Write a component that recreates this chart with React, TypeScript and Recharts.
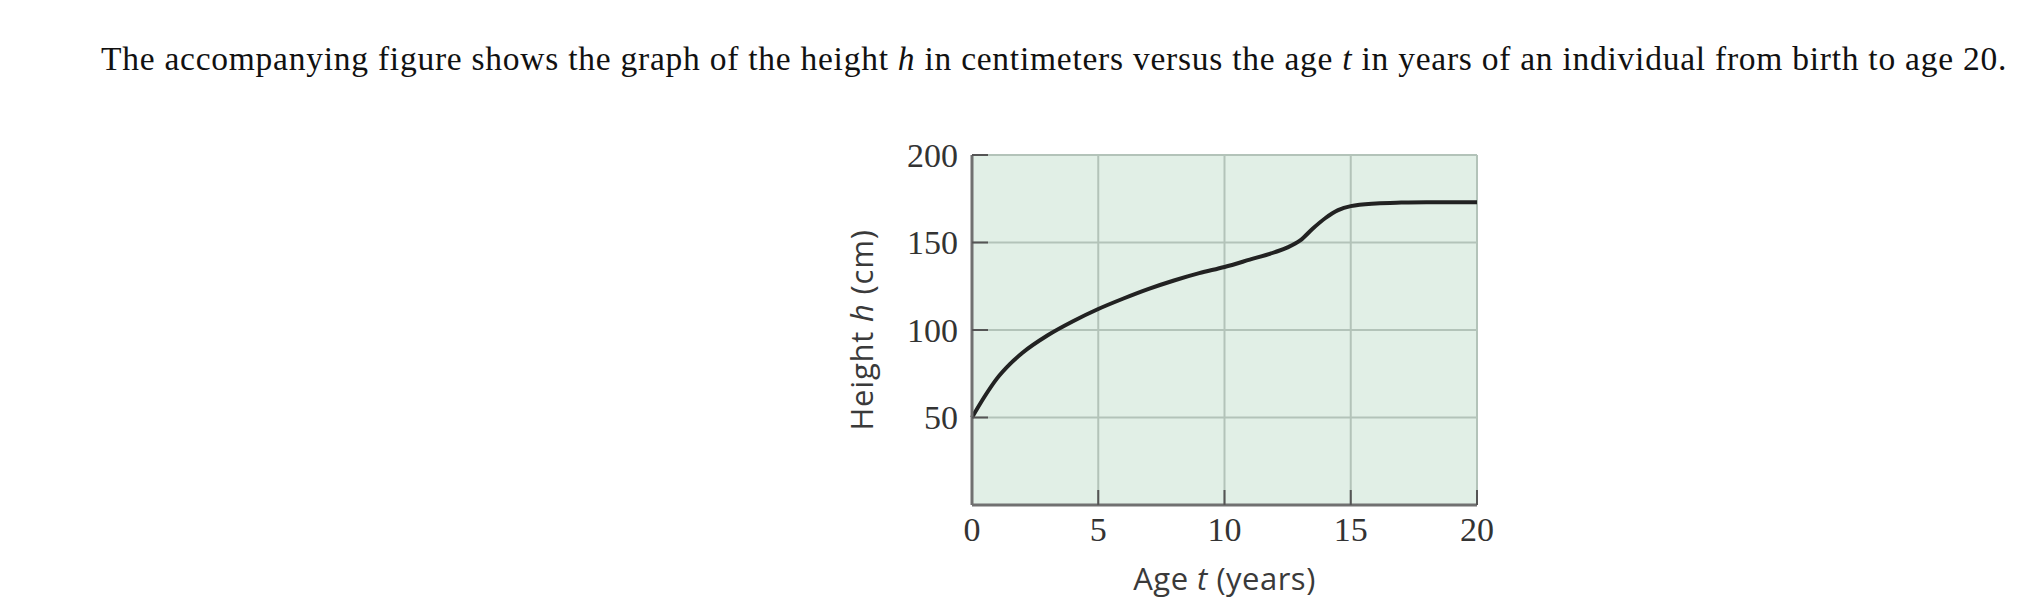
import { LineChart, Line, XAxis, YAxis, CartesianGrid, Label } from 'recharts'

// ages (years) and heights (cm)
const ages = [0, 0.5, 1, 1.5, 2, 3, 4, 5, 6, 7, 8, 9, 10, 11, 12, 12.5, 13, 13.5, 14, 14.5, 15, 16, 17, 18, 19, 20]
const heights = [50, 62, 72.5, 80.5, 87, 97, 105, 112, 118, 123.5, 128.3, 132.5, 136, 140.2, 144.5, 147.2, 151.2, 158, 164, 168.5, 170.8, 172.3, 172.8, 173, 173, 173]

const xTicks = [0, 5, 10, 15, 20]
const yTicks = [50, 100, 150, 200]

const data = ages.map((t, i) => ({ t, h: heights[i] }))

const serif = '"Liberation Serif", "Times New Roman", serif'
const sans = '"Open Sans", "Noto Sans", sans-serif'

const YTick = ({ x, y, payload }: any) => (
  <g>
    <line x1={x + 14} x2={x + 30} y1={y} y2={y} stroke="#555" strokeWidth={2} />
    <text x={x} y={y} dy="0.34em" textAnchor="end" fontFamily={serif} fontSize={34} fill="#333">
      {payload.value}
    </text>
  </g>
)

const XTick = ({ x, y, payload }: any) => (
  <g>
    {payload.value !== 0 && (
      <line x1={x} x2={x} y1={y - 16} y2={y - 31} stroke="#555" strokeWidth={2} />
    )}
    <text x={x} y={y} dy="0.58em" textAnchor="middle" fontFamily={serif} fontSize={34} fill="#333">
      {payload.value}
    </text>
  </g>
)

const YLabel = ({ viewBox }: any) => {
  const cx = viewBox.x + viewBox.width - 110
  const cy = viewBox.y + viewBox.height / 2
  return (
    <text x={cx} y={cy} dy="0.35em" transform={`rotate(-90 ${cx} ${cy})`} textAnchor="middle" fontFamily={sans} fontSize={31} letterSpacing={0.8} fill="#3a3a3a">
      Height <tspan fontStyle="italic">h</tspan> (cm)
    </text>
  )
}

const XLabel = ({ viewBox }: any) => (
  <text x={viewBox.x + viewBox.width / 2} y={viewBox.y + 85} textAnchor="middle" fontFamily={sans} fontSize={31} letterSpacing={0.5} fill="#3a3a3a">
    Age <tspan fontStyle="italic">t</tspan> (years)
  </text>
)

export default function App() {
  return (
    <div style={{ position: 'relative', width: 2012, height: 600 }}>
      <div
        style={{
          position: 'absolute',
          left: 93,
          top: 34,
          fontFamily: serif,
          fontSize: 33.5,
          lineHeight: '33.5px',
          letterSpacing: 0.75,
          whiteSpace: 'nowrap',
          color: '#111',
        }}
      >
        The accompanying figure shows the graph of the height <i>h</i> in centimeters versus the age <i>t</i> in years of an individual from birth to age 20.
      </div>
      <div style={{ position: 'absolute', left: 0, top: 0 }}>
        <LineChart width={2012} height={600} data={data} margin={{ top: 147, right: 543, bottom: 0, left: 844 }}>
          <CartesianGrid fill="#e1efe6" fillOpacity={1} stroke="#b3c3b9" strokeWidth={2} />
          <XAxis
            dataKey="t"
            type="number"
            domain={[0, 20]}
            ticks={xTicks}
            height={103}
            tickSize={0}
            tickMargin={16}
            tick={<XTick />}
            axisLine={{ stroke: '#707070', strokeWidth: 3 }}
          >
            <Label content={<XLabel />} />
          </XAxis>
          <YAxis
            type="number"
            domain={[0, 200]}
            ticks={yTicks}
            width={120}
            tickSize={0}
            tickMargin={14}
            tick={<YTick />}
            axisLine={{ stroke: '#707070', strokeWidth: 3 }}
          >
            <Label content={<YLabel />} />
          </YAxis>
          <Line dataKey="h" type="monotone" stroke="#222" strokeWidth={4} dot={false} isAnimationActive={false} />
        </LineChart>
      </div>
    </div>
  )
}
